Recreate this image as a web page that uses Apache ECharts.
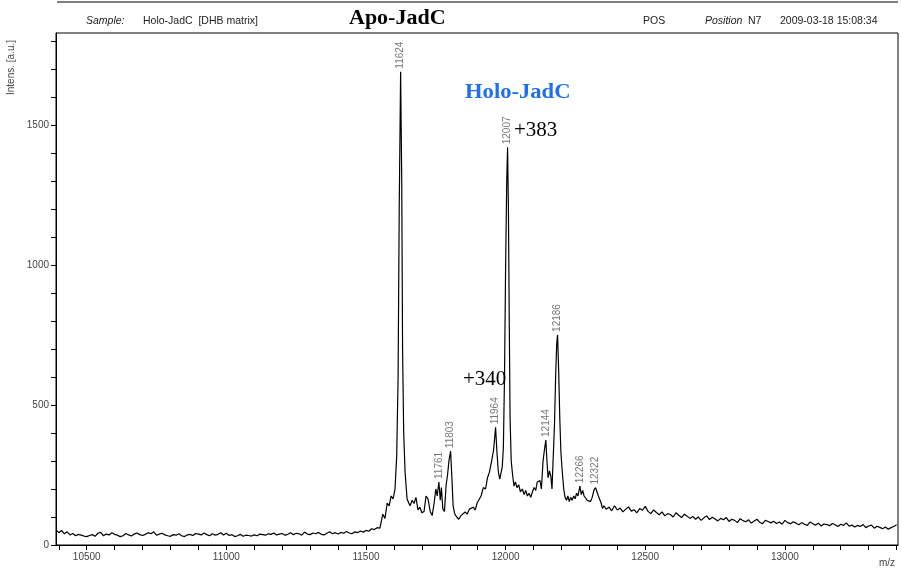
<!DOCTYPE html>
<html><head><meta charset="utf-8">
<script src="https://cdn.jsdelivr.net/npm/echarts@6/dist/echarts.min.js"></script>
<style>html,body{margin:0;padding:0;background:#fff}#c{width:901px;height:571px}</style>
</head><body><div id="c"></div>
<script>
// Baseline before peaks: m/z 10390..11540 step 10
const baseStart = 10390;
const baseVals = [
54,44,52,40,47,36,41,33,38,35,32,
30,34,37,31,42,45,33,39,36,44,
38,35,30,33,41,36,32,39,43,37,
34,38,44,40,47,35,39,42,36,33,
31,37,35,40,33,30,36,38,34,41,
39,36,43,37,33,40,35,38,44,36,
42,34,37,30,33,38,31,35,34,32,
36,33,39,37,35,40,38,43,36,39,
41,35,38,44,37,42,40,35,46,39,
37,43,40,45,38,36,42,47,40,44,
39,45,42,48,43,40,47,44,50,46,
52,49,58,55,62];
// Peak region (m/z, intensity)
const peakMz = [11550,11560,11568,11576,11583,11590,11597,11604,11610,11615,11619,11624,11628,11631,11635,11640,11647,11653,11658,11665,11672,11679,11686,11693,11700,11708,11715,11722,11730,11737,11744,11750,11755,11761,11766,11770,11775,11781,11787,11792,11797,11803,11808,11812,11818,11825,11832,11840,11847,11855,11862,11870,11877,11884,11891,11898,11905,11912,11920,11928,11935,11942,11950,11957,11964,11969,11974,11979,11984,11988,11992,11996,12000,12004,12007,12010,12013,12016,12020,12025,12030,12035,12041,12047,12053,12060,12066,12072,12078,12084,12090,12096,12102,12108,12113,12118,12123,12128,12134,12139,12144,12148,12152,12157,12162,12166,12171,12175,12179,12183,12186,12190,12194,12198,12203,12208,12213,12218,12223,12228,12233,12238,12244,12249,12254,12259,12266,12271,12276,12281,12287,12292,12298,12304,12310,12316,12322,12327,12332,12337,12342,12347,12352];
const peakInt = [60,110,95,150,140,175,165,200,320,600,1200,1690,1300,700,400,260,165,150,140,160,148,170,125,135,115,120,175,165,120,105,150,200,175,225,160,205,130,120,215,250,300,335,230,140,110,100,92,105,98,118,110,128,122,135,125,150,145,175,205,200,240,260,300,340,420,330,260,235,240,280,350,600,1000,1300,1420,1200,800,450,300,250,210,225,205,215,190,200,180,195,175,185,170,190,205,195,225,220,230,200,300,340,375,300,240,265,245,200,195,430,600,720,750,620,450,330,260,200,170,160,175,155,170,160,175,165,185,175,210,180,195,175,170,160,165,155,170,195,205,190,175,180,150,130,140];
// Tail: m/z 12360..13400 step 10
const tailStart = 12360;
const tailVals = [
128,135,122,140,125,132,118,128,136,121,
126,115,130,124,138,120,112,125,116,108,
118,104,112,109,100,115,106,98,110,103,
95,102,92,100,88,97,104,91,99,93,
86,95,90,98,84,92,88,80,94,87,
83,90,78,86,92,81,76,88,84,79,
85,77,82,74,88,80,76,83,78,72,
80,74,70,82,76,71,78,68,75,73,
69,77,72,66,74,70,79,67,71,64,
70,66,73,62,68,71,60,67,63,58,
64,56,62,66,72];
// Labelled peaks
const labelMz = [11624,11761,11803,11964,12007,12144,12186,12266,12322];
const labelInt = [1690,225,335,420,1420,375,750,210,205];
const xMajor = [10500,11000,11500,12000,12500,13000];
const yMajor = [0,500,1000,1500];

const series = [];
baseVals.forEach((v,i)=>series.push([baseStart+i*10, v]));
peakMz.forEach((m,i)=>series.push([m, peakInt[i]]));
tailVals.forEach((v,i)=>series.push([tailStart+i*10, v]));

const xMinor = []; for (let v=10400; v<=13400; v+=100) xMinor.push(v);
const yMinor = []; for (let v=0; v<=1800; v+=100) yMinor.push(v);

const chart = echarts.init(document.getElementById('c'));
const lab = {fontFamily:'Liberation Sans, Arial, sans-serif', fontSize:10, color:'#444'};
const hdr = '10.5px Liberation Sans, Arial, sans-serif';
chart.setOption({
  animation:false,
  grid:{left:56, right:3, top:33, bottom:26, show:true, borderColor:'#000', borderWidth:1},
  xAxis:{type:'value', min:10390, max:13405,
    axisLine:{lineStyle:{color:'#000'}},
    axisTick:{customValues:xMinor, length:5, lineStyle:{color:'#000'}},
    axisLabel:{customValues:xMajor, margin:7, formatter:v=>String(v), ...lab},
    splitLine:{show:false}},
  yAxis:{type:'value', min:0, max:1828,
    axisLine:{show:true, lineStyle:{color:'#000'}},
    axisTick:{show:true, customValues:yMinor, length:5, lineStyle:{color:'#000'}},
    axisLabel:{customValues:yMajor, margin:7, formatter:v=>String(v), ...lab},
    splitLine:{show:false}},
  series:[
    {type:'line', data:series, symbol:'none', lineStyle:{color:'#000', width:1.2}, z:3},
    {type:'scatter', data:labelMz.map((m,i)=>[m,labelInt[i]]), symbolSize:0,
      label:{show:true, position:'top', distance:3, rotate:90, align:'left', verticalAlign:'middle',
        formatter:p=>String(p.value[0]), ...lab, color:'#555'}, z:4}
  ],
  graphic:[
    {type:'line', shape:{x1:57,y1:2,x2:898,y2:2}, style:{stroke:'#000', lineWidth:1.2}},
    {type:'text', left:86, top:16, style:{text:'Sample:', font:'italic '+hdr, fill:'#222'}},
    {type:'text', left:143, top:16, style:{text:'Holo-JadC  [DHB matrix]', font:hdr, fill:'#222'}},
    {type:'text', x:349, y:9, scaleX:1.1, style:{text:'Apo-JadC', font:'bold 20px Liberation Serif, Times New Roman, serif', fill:'#000'}},
    {type:'text', left:643, top:16, style:{text:'POS', font:hdr, fill:'#222'}},
    {type:'text', left:705, top:16, style:{text:'Position', font:'italic '+hdr, fill:'#222'}},
    {type:'text', left:748, top:16, style:{text:'N7', font:hdr, fill:'#222'}},
    {type:'text', left:780, top:16, style:{text:'2009-03-18 15:08:34', font:hdr, fill:'#222'}},
    {type:'text', x:11, y:95, rotation:Math.PI/2, style:{text:'Intens. [a.u.]', font:'10px Liberation Sans, Arial', fill:'#444', textAlign:'left', textVerticalAlign:'middle'}},
    {type:'text', left:879, top:558, style:{text:'m/z', font:'10px Liberation Sans, Arial', fill:'#444'}},
    {type:'text', x:465, y:83, scaleX:1.13, style:{text:'Holo-JadC', font:'bold 20px Liberation Serif, Times New Roman, serif', fill:'#1f6ff2'}},
    {type:'text', left:514, top:120, style:{text:'+383', font:'21px Liberation Serif, Times New Roman, serif', fill:'#000'}},
    {type:'text', left:463, top:369, style:{text:'+340', font:'21px Liberation Serif, Times New Roman, serif', fill:'#000'}}
  ]
});
</script></body></html>
